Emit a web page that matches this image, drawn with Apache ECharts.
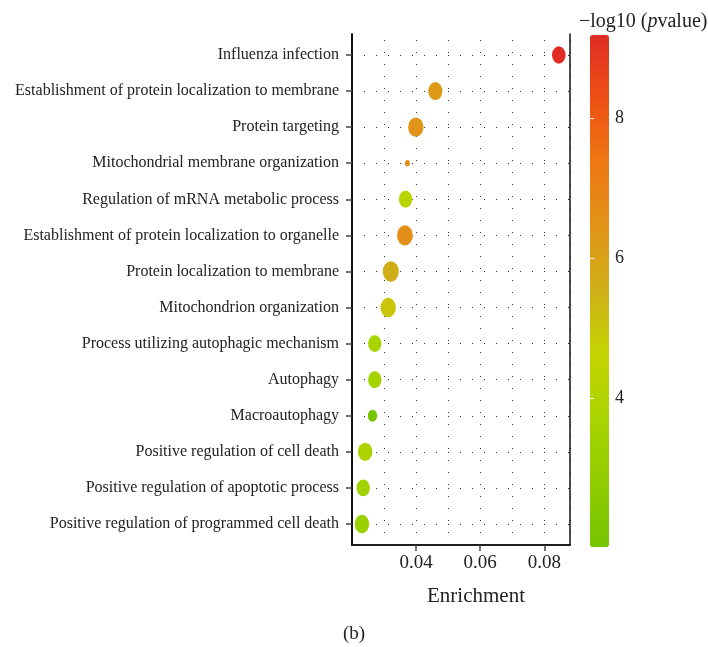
<!DOCTYPE html>
<html>
<head>
<meta charset="utf-8">
<script src="https://cdn.jsdelivr.net/npm/echarts@6/dist/echarts.min.js"></script>
<style>
  html, body { margin: 0; padding: 0; background: #fff; }
  #chart { width: 708px; height: 647px; }
</style>
</head>
<body>
<div id="chart"></div>
<script>
// GO / KEGG terms, top to bottom
const terms = [
  'Influenza infection',
  'Establishment of protein localization to membrane',
  'Protein targeting',
  'Mitochondrial membrane organization',
  'Regulation of mRNA metabolic process',
  'Establishment of protein localization to organelle',
  'Protein localization to membrane',
  'Mitochondrion organization',
  'Process utilizing autophagic mechanism',
  'Autophagy',
  'Macroautophagy',
  'Positive regulation of cell death',
  'Positive regulation of apoptotic process',
  'Positive regulation of programmed cell death'
];
const enrichment = [0.0845, 0.0460, 0.0399, 0.0373, 0.0367, 0.0365, 0.0321, 0.0313, 0.0271, 0.0271, 0.0264, 0.0241, 0.0235, 0.0231];
const geneCount  = [23, 25, 29, 3, 22, 31, 32, 29, 22, 22, 11, 26, 22, 26];
const negLogP    = [9.19, 6.3, 6.4, 6.5, 4.2, 6.6, 5.6, 5.0, 3.7, 3.6, 1.88, 3.9, 3.4, 3.3];

const enrichmentTicks = [0.04, 0.06, 0.08];
const colorTicks = [4, 6, 8];
const colorRange = [1.88, 9.19];

// green -> yellow -> orange -> red
const colorRamp = ['#74c400', '#90cc00', '#a8d400', '#c4d400', '#ceb018', '#e29418', '#ee7814', '#ee5014', '#e02c24'];

const SERIF = '"Liberation Serif", "Times New Roman", serif';
const INK = '#222';
const dotted = { color: '#333', width: 1, type: [1, 11] };
const frameLine = { color: '#111', width: 1.5 };

const points = terms.map((t, i) => [enrichment[i], i, geneCount[i], negLogP[i]]);

// bubble diameter grows with the square root of the gene count
function bubbleSize(val) {
  const d = 3.6 * Math.sqrt(val[2]);
  return [d * 0.79, d];
}

const chart = echarts.init(document.getElementById('chart'), null, { renderer: 'canvas' });

chart.setOption({
  animation: false,
  backgroundColor: '#fff',
  title: [
    {
      text: '(b)', left: 'center', top: 620,
      textStyle: { fontFamily: SERIF, fontSize: 19, fontWeight: 'normal', color: INK }
    },
    {
      text: '{a|\u2212log10 (}{i|p}{a|value)}', left: 574, top: 7,
      textStyle: {
        fontWeight: 'normal',
        rich: {
          a: { fontFamily: SERIF, fontSize: 20, fontWeight: 'normal', color: INK },
          i: { fontFamily: SERIF, fontSize: 20, fontWeight: 'normal', fontStyle: 'italic', color: INK }
        }
      }
    }
  ],
  grid: [
    { left: 352, right: 138, top: 34, bottom: 102 },   // panel frame + vertical guides
    { left: 352, right: 138, top: 55, bottom: 123 },   // term rows
    { left: 590, width: 19, top: 35, height: 512 }     // colour bar scale
  ],
  xAxis: [
    {
      gridIndex: 0, type: 'value', position: 'bottom',
      min: 0.02, max: 0.088, interval: 0.01,
      axisLine: { lineStyle: frameLine },
      axisTick: { customValues: enrichmentTicks, length: 6, lineStyle: { color: '#444', width: 1.5 } },
      axisLabel: {
        customValues: enrichmentTicks, formatter: v => v.toFixed(2), margin: 9,
        fontFamily: SERIF, fontSize: 19, color: INK
      },
      splitLine: { show: false },
      name: 'Enrichment', nameLocation: 'middle', nameGap: 41,
      nameTextStyle: { fontFamily: SERIF, fontSize: 21, color: INK, padding: [0, 0, 0, 30] }
    },
    {
      gridIndex: 0, type: 'value', position: 'top',
      min: 0.02, max: 0.088, interval: 0.01,
      axisLine: { show: true, lineStyle: frameLine },
      axisTick: { show: false }, axisLabel: { show: false },
      splitLine: { show: true, lineStyle: Object.assign({ dashOffset: -6 }, dotted) }
    },
    { gridIndex: 1, type: 'value', min: 0.02, max: 0.088, show: false },
    { gridIndex: 2, type: 'value', show: false }
  ],
  yAxis: [
    {
      gridIndex: 0, type: 'value', position: 'left', min: 0, max: 1,
      axisLine: { show: true, lineStyle: { color: '#111', width: 2 } },
      axisTick: { show: false }, axisLabel: { show: false }, splitLine: { show: false }
    },
    {
      gridIndex: 0, type: 'value', position: 'right', min: 0, max: 1,
      axisLine: { show: true, lineStyle: frameLine },
      axisTick: { show: false }, axisLabel: { show: false }, splitLine: { show: false }
    },
    {
      gridIndex: 1, type: 'category', data: terms, inverse: true, boundaryGap: false,
      axisLine: { show: false },
      axisTick: { show: true, length: 6, lineStyle: { color: '#444', width: 1.5 } },
      axisLabel: { margin: 13, fontFamily: SERIF, fontSize: 16, color: INK },
      splitLine: { show: true, lineStyle: dotted }
    },
    {
      gridIndex: 2, type: 'value', position: 'right', min: colorRange[0], max: colorRange[1], z: 10,
      axisLine: { show: false },
      axisTick: { customValues: colorTicks, inside: true, length: 4, lineStyle: { color: '#fff', width: 1 } },
      axisLabel: { customValues: colorTicks, margin: 6, fontFamily: SERIF, fontSize: 18, color: INK },
      splitLine: { show: false }
    },
    {
      gridIndex: 2, type: 'value', position: 'left', min: colorRange[0], max: colorRange[1], z: 10,
      axisLine: { show: false },
      axisTick: { customValues: colorTicks, inside: true, length: 4, lineStyle: { color: '#fff', width: 1 } },
      axisLabel: { show: false },
      splitLine: { show: false }
    }
  ],
  visualMap: {
    type: 'continuous', seriesIndex: 0, dimension: 3,
    min: colorRange[0], max: colorRange[1],
    inRange: { color: colorRamp },
    orient: 'vertical', left: 590, top: 35,
    itemWidth: 19, itemHeight: 512, padding: 0,
    calculable: false, hoverLink: false, text: null, z: 4
  },
  series: [
    {
      type: 'scatter', xAxisIndex: 2, yAxisIndex: 2,
      data: points,
      symbol: 'circle',
      symbolSize: bubbleSize,
      itemStyle: { opacity: 1 },
      z: 5
    }
  ]
});
</script>
</body>
</html>
